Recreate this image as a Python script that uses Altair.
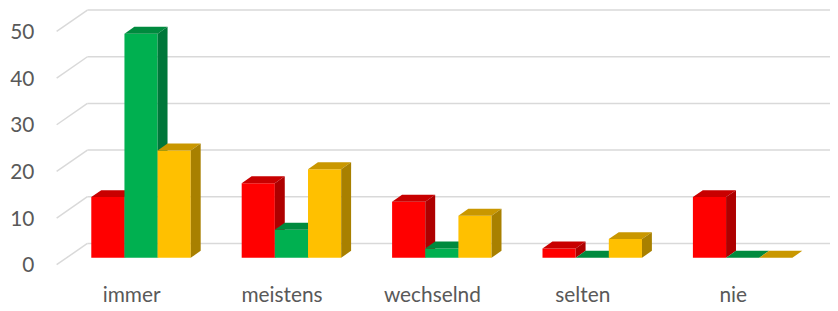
import altair as alt
import pandas as pd

# ---- data ----
categories = ["immer", "meistens", "wechselnd", "selten", "nie"]
series_names = ["Reihe 1", "Reihe 2", "Reihe 3"]
red_values = [13, 16, 12, 2, 13]
green_values = [48, 6, 2, 0, 0]
yellow_values = [23, 19, 9, 4, 0]
y_ticks = [0, 10, 20, 30, 40, 50]

# ---- styles ----
front_colors = ["#FF0000", "#00B050", "#FFC000"]
top_colors = ["#C80000", "#008A3E", "#C99700"]
side_colors = ["#AE0000", "#00773A", "#A88000"]
grid_color = "#D9D9D9"
text_color = "#595959"
font = "Lato"

# ---- layout constants (pixels converted into scale units) ----
PX_PER_CAT = 151.5
PX_PER_UNIT = 4.7
W, H = 780, 272
BAR_W = 33.4 / PX_PER_CAT
DEPTH_X = 10 / PX_PER_CAT
DEPTH_Y = 7 / PX_PER_UNIT
X_LO = (56 - 142) / PX_PER_CAT
X_HI = X_LO + W / PX_PER_CAT
Y_HI = 53.3
Y_LO = Y_HI - H / PX_PER_UNIT
FLOOR_FRONT_X = (57 - 142) / PX_PER_CAT
FLOOR_BACK_X = (88 - 142) / PX_PER_CAT
FLOOR_FRONT_Y = -7 / PX_PER_UNIT
FLOOR_BACK_Y = 14.5 / PX_PER_UNIT

all_series = [red_values, green_values, yellow_values]

label_expr = "[" + ",".join("'%s'" % c for c in categories) + "][round(datum.value)]"
x_axis = alt.Axis(values=list(range(len(categories))), labelExpr=label_expr, title=None,
                  ticks=False, tickSize=0, domain=False, grid=False, labelFlush=False,
                  labelOverlap=False, labelOffset=-10, labelPadding=6,
                  labelFont=font, labelFontSize=21, labelColor=text_color)
y_axis = alt.Axis(values=y_ticks, title=None, ticks=False, tickSize=0, domain=False, grid=False,
                  labelOffset=8, labelPadding=22, labelFont=font, labelFontSize=21,
                  labelColor=text_color)

x_scale = alt.Scale(domain=[X_LO, X_HI], nice=False, zero=False)
y_scale = alt.Scale(domain=[Y_LO, Y_HI], nice=False, zero=False)


def X():
    return alt.X("x:Q", scale=x_scale, axis=x_axis)


def Y():
    return alt.Y("y:Q", scale=y_scale, axis=y_axis)


# ---- gridlines ----
grid_back = pd.DataFrame({
    "x": [FLOOR_BACK_X] * len(y_ticks),
    "x2": [X_HI] * len(y_ticks),
    "y": [t + FLOOR_BACK_Y for t in y_ticks],
    "y2": [t + FLOOR_BACK_Y for t in y_ticks],
})
grid_diag = pd.DataFrame({
    "x": [FLOOR_FRONT_X] * len(y_ticks),
    "x2": [FLOOR_BACK_X] * len(y_ticks),
    "y": [t + FLOOR_FRONT_Y for t in y_ticks],
    "y2": [t + FLOOR_BACK_Y for t in y_ticks],
})

layers = []
for g in (grid_back, grid_diag):
    layers.append(
        alt.Chart(g).mark_rule(color=grid_color, strokeWidth=1.5).encode(
            x=X(), x2="x2:Q", y=Y(), y2="y2:Q"
        )
    )

# ---- 3D bars ----
for j, values in enumerate(all_series):
    front_rows, top_rows, side_rows = [], [], []
    for i, (cat, v) in enumerate(zip(categories, values)):
        x1 = i + (j - 1.5) * BAR_W
        x2 = x1 + BAR_W
        front_rows.append({"cat": cat, "x": x1, "x2": x2, "y": 0, "y2": v})
        top_rows += [
            {"cat": cat, "x": x1, "y": v, "y2": v},
            {"cat": cat, "x": x1 + DEPTH_X, "y": v, "y2": v + DEPTH_Y},
            {"cat": cat, "x": x2, "y": v, "y2": v + DEPTH_Y},
            {"cat": cat, "x": x2 + DEPTH_X, "y": v + DEPTH_Y, "y2": v + DEPTH_Y},
        ]
        side_rows += [
            {"cat": cat, "x": x2, "y": 0, "y2": v},
            {"cat": cat, "x": x2 + DEPTH_X, "y": DEPTH_Y, "y2": v + DEPTH_Y},
        ]
    layers.append(
        alt.Chart(pd.DataFrame(front_rows)).mark_rect(color=front_colors[j]).encode(
            x=X(), x2="x2:Q", y=Y(), y2="y2:Q"
        )
    )
    layers.append(
        alt.Chart(pd.DataFrame(top_rows)).mark_area(color=top_colors[j], interpolate="linear").encode(
            x=X(), y=Y(), y2="y2:Q", detail="cat:N"
        )
    )
    layers.append(
        alt.Chart(pd.DataFrame(side_rows)).mark_area(color=side_colors[j], interpolate="linear").encode(
            x=X(), y=Y(), y2="y2:Q", detail="cat:N"
        )
    )

chart = alt.layer(*layers).properties(
    width=W, height=H,
    autosize=alt.AutoSizeParams(type="none"),
    padding={"left": 48, "top": 0, "right": 0, "bottom": 28},
    background="white",
).configure_view(stroke=None)

chart.save("out.html", embed_options={"renderer": "svg", "actions": False})
